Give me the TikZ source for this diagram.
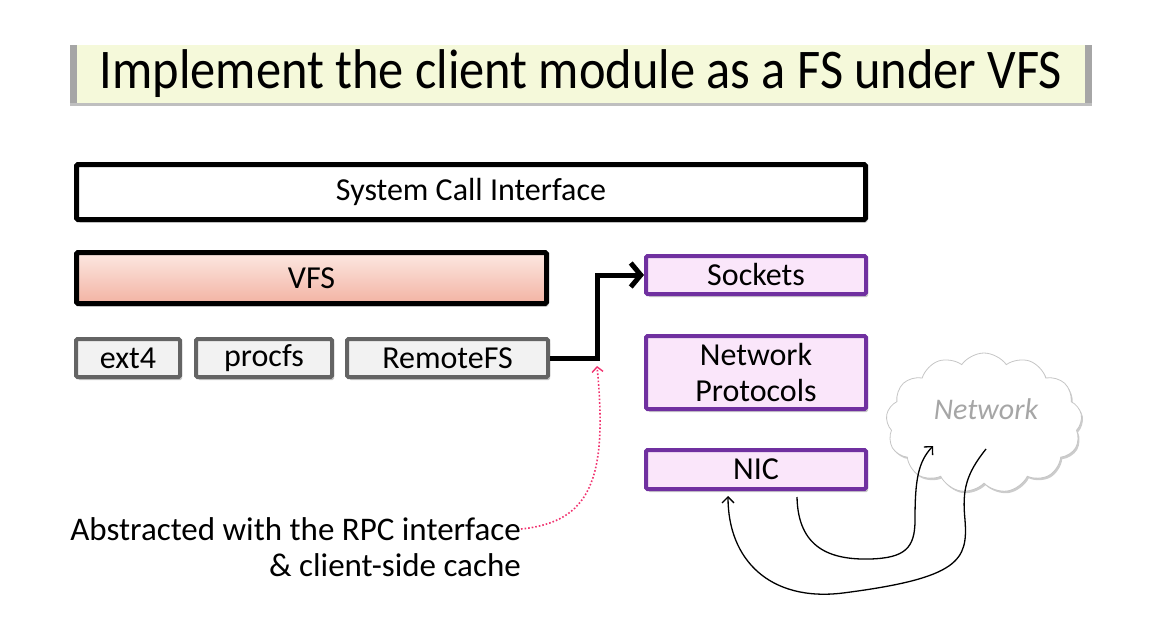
\documentclass[tikz,border=0pt]{standalone}
\usepackage{fontspec}
\setmainfont{Carlito}
\usetikzlibrary{arrows.meta,shapes.symbols,shadows,calc}
\definecolor{titlefill}{HTML}{F5F9DA}
\definecolor{graybord}{HTML}{646464}
\definecolor{grayfill}{HTML}{F2F2F2}
\definecolor{purp}{HTML}{7030A0}
\definecolor{purpfill}{HTML}{FAE6FA}
\definecolor{vfstop}{HTML}{FCE8E2}
\definecolor{vfsbot}{HTML}{F3B3A3}
\definecolor{pinkarrow}{HTML}{F0336F}
\definecolor{netgray}{HTML}{A6A6A6}
\begin{document}
\begin{tikzpicture}[x=1pt,y=-1pt,
  shadowed/.style={drop shadow={shadow xshift=2pt,shadow yshift=-3pt,opacity=0.3,fill=black!70}},
  boxtext/.style={font=\fontsize{32}{36}\selectfont,inner sep=0pt,align=center},
  blackbox/.style={boxtext,draw=black,line width=5pt,rounded corners=1.5pt,shadowed},
  graybox/.style={boxtext,draw=graybord,fill=grayfill,line width=4pt,rounded corners=1.5pt,shadowed,minimum height=38},
  purplebox/.style={boxtext,draw=purp,fill=purpfill,line width=4pt,rounded corners=1.5pt,shadowed,minimum width=220},
  thickarrow/.style={line width=5pt,-{Straight Barb[length=10pt,width=24pt,line width=5pt]}},
  thinarrow/.style={line width=1.3pt,-{Straight Barb[length=6pt,width=12pt,line width=1.3pt]}},
  dotarrow/.style={pinkarrow,line width=1.6pt,dotted,-{Straight Barb[length=5pt,width=11pt,line width=1.4pt]}},
  notetext/.style={font=\fontsize{33}{37}\selectfont,inner sep=0pt,anchor=east}
]
\useasboundingbox (0,0) rectangle (1158,626);
% title
\node[fill=black!35,minimum width=1022,minimum height=58,inner sep=0pt,
      drop shadow={shadow xshift=0pt,shadow yshift=-3pt,opacity=0.25,fill=black}] (titleshadow) at (581,74) {};
\node[fill=titlefill,minimum width=1008,minimum height=58,inner sep=0pt] (titlebox) at (581,74) {};
\node[inner sep=0pt,font=\fontsize{56}{60}\selectfont] (title) at (581,74) {\scalebox{0.9}[1]{Implement the client module as a FS under VFS}};
% boxes
\node[blackbox,fill=white,minimum width=789,minimum height=55] (sci) at (471,192) {System Call Interface};
\node[blackbox,top color=vfstop,bottom color=vfsbot,minimum width=470,minimum height=51] (vfs) at (311.5,278) {VFS};
\node[graybox,minimum width=104] (ext4) at (128,358) {ext4};
\node[graybox,minimum width=136] (procfs) at (264,358) {procfs};
\node[graybox,minimum width=201] (remote) at (447.5,358) {RemoteFS};
\node[purplebox,minimum height=38] (sockets) at (756,275) {Sockets};
\node[purplebox,minimum height=73] (proto) at (756,372.5) {Network\\Protocols};
\node[purplebox,minimum height=39] (nic) at (756,469.5) {NIC};
% cloud
\node[cloud,cloud puffs=13,cloud puff arc=110,aspect=1.6,draw=gray!45,line width=0.8pt,fill=white,
      minimum width=196,minimum height=140,inner sep=0pt,
      drop shadow={shadow xshift=1.5pt,shadow yshift=-2pt,opacity=0.2,fill=black}] (cloud) at (984,423) {};
\node[font=\fontsize{30}{32}\selectfont\itshape,text=netgray,inner sep=0pt] (netlabel) at (986,409) {Network};
% thick arrow
\coordinate (mid) at ($(remote.east)!0.5!(sockets.west)$);
\draw[thickarrow,line join=miter] (remote.east) -| (mid) |- (sockets.west);
% note
\node[notetext] (note1) at (521,529) {Abstracted with the RPC interface};
\node[notetext] (note2) at (521,565) {\& client-side cache};
\coordinate (rpctip) at (597,366);
\draw[dotarrow] (note1.east) .. controls (590,522) and (608,480) .. (rpctip);
% network arrows
\coordinate (nicout) at (797,497);
\coordinate (cloudin) at (933,446);
\coordinate (cloudout) at (986,449);
\coordinate (nicin) at (728,496);
\draw[thinarrow] (nicout) .. controls (798,548) and (830,560) .. (870,559)
   .. controls (905,558) and (915,548) .. (915,520)
   .. controls (915,480) and (918,462) .. (cloudin);
\draw[thinarrow] (cloudout) .. controls (966,474) and (962,490) .. (965,520)
   .. controls (968,560) and (960,578) .. (843,593)
   .. controls (770,602) and (728,560) .. (nicin);
\end{tikzpicture}
\end{document}
